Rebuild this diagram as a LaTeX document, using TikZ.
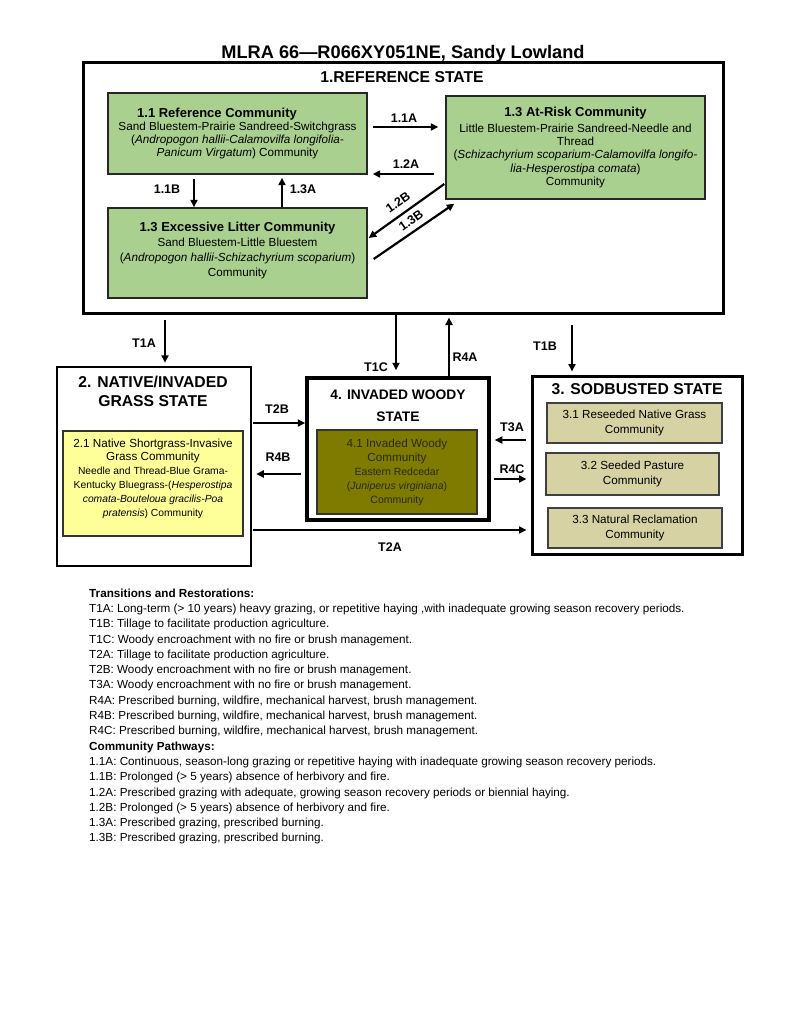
\documentclass[tikz,border=0pt]{standalone}
\usepackage{fontspec}
\setmainfont{Liberation Sans}
\usetikzlibrary{arrows.meta}
\definecolor{grn}{HTML}{A9D08E}
\definecolor{ylw}{HTML}{FFFF99}
\definecolor{olv}{HTML}{7F7A00}
\definecolor{tanbox}{HTML}{D6D2A3}
\definecolor{olvtext}{HTML}{2A2A10}
\newcommand\myfs[2]{\fontsize{#1}{#2}\selectfont}
\begin{document}
\begin{tikzpicture}[x=1pt,y=-1pt,
  statebox/.style={draw=black,line width=3pt,inner sep=0pt},
  commbox/.style={draw=black!85,line width=1.4pt,inner sep=0pt,align=center},
  txt/.style={inner sep=0pt,align=center},
  arr/.style={-{Triangle[length=7.5pt,width=7pt]},line width=2.2pt},
  lbl/.style={font=\bfseries\myfs{12.5}{14},inner sep=0pt},
  sttitle/.style={font=\bfseries\myfs{15.7}{19},inner sep=0pt,align=center}]
\useasboundingbox (0,0) rectangle (800,1035);
\fill[white] (0,0) rectangle (800,1035);

% title
\node[font=\bfseries\myfs{18.2}{22},inner sep=0pt,anchor=base] (title) at (403,58.5) {MLRA 66—R066XY051NE, Sandy Lowland};

% state 1
\node[statebox,minimum width=640pt,minimum height=250pt] (s1) at (403,188) {};
\node[sttitle] (s1t) at (402,77) {1.REFERENCE STATE};

\node[commbox,fill=grn,minimum width=259pt,minimum height=81pt,font=\myfs{11.7}{13.2}] (b11) at (237.5,133.5)
 {{\bfseries\myfs{13}{15}1.1 Reference Community}\kern41pt\\
  Sand Bluestem-Prairie Sandreed-Switchgrass\\
  (\textit{Andropogon hallii-Calamovilfa longifolia-}\\
  \textit{Panicum Virgatum}) Community};

\node[commbox,fill=grn,minimum width=259pt,minimum height=103pt,font=\myfs{11.7}{13.2}] (b13r) at (575.5,147.5)
 {{\bfseries\myfs{13}{15}1.3 At-Risk Community}\\[2.5pt]
  Little Bluestem-Prairie Sandreed-Needle and\\
  Thread\\
  (\textit{Schizachyrium scoparium-Calamovilfa longifo-}\\
  \textit{lia-Hesperostipa comata})\\
  Community};

\node[commbox,fill=grn,minimum width=259pt,minimum height=90pt] (bex) at (237.5,253) {};
\node[txt,font=\myfs{11.7}{15}] (bext) at (237.5,250.5)
 {{\bfseries\myfs{13}{15}1.3 Excessive Litter Community}\\
  Sand Bluestem-Little Bluestem\\
  (\textit{Andropogon hallii-Schizachyrium scoparium})\\
  Community};

% community pathways
\draw[arr] ([xshift=5pt,yshift=6.5pt]b11.east) -- ([xshift=-7pt,yshift=20.5pt]b13r.west);
\node[lbl] (l11a) at (404,118) {1.1A};
\draw[arr] ([xshift=-11pt,yshift=-26.5pt]b13r.west) -- ([xshift=5pt,yshift=-40.5pt]b11.east);
\node[lbl] (l12a) at (406,164) {1.2A};
\draw[arr,line width=1.7pt] ([xshift=-43.5pt,yshift=-4pt]b11.south) -- ([xshift=-43.5pt]bex.north);
\node[lbl] (l11b) at (167,189) {1.1B};
\draw[arr,line width=1.7pt] ([xshift=44.5pt]bex.north) -- ([xshift=44.5pt,yshift=-3pt]b11.south);
\node[lbl] (l13a) at (303,189) {1.3A};
\draw[arr] ([xshift=-1pt,yshift=-36.5pt]b13r.west) -- ([xshift=1pt,yshift=15pt]bex.east);
\node[lbl,rotate=35] (l12b) at (398,202) {1.2B};
\draw[arr] ([xshift=6pt,yshift=-6pt]bex.east) -- ([xshift=9pt,yshift=-4pt]b13r.south west);
\node[lbl,rotate=35] (l13b) at (411,220) {1.3B};

% state 2
\node[statebox,line width=2.5pt,minimum width=194pt,minimum height=199pt] (b2) at (154,466.5) {};
\node[sttitle] (b2t) at (153,391.5) {2. NATIVE/INVADED\\GRASS STATE};
\node[commbox,draw=black!80,line width=1.2pt,fill=ylw,minimum width=180pt,minimum height=105pt] (b21) at (153,483.5) {};
\node[txt,font=\myfs{10.3}{13.8}] (b21t) at (153,478.5)
 {{\myfs{11.7}{14}2.1 Native Shortgrass-Invasive}\\
  {\myfs{11.7}{14}Grass Community}\\
  Needle and Thread-Blue Grama-\\
  Kentucky Bluegrass-(\textit{Hesperostipa}\\
  \textit{comata-Bouteloua gracilis-Poa}\\
  \textit{pratensis}) Community};

% state 4
\node[statebox,line width=3.5pt,minimum width=182pt,minimum height=142pt] (b4) at (398,449) {};
\node[txt,font=\bfseries\myfs{13.8}{22}] (b4t) at (398,406) {4. INVADED WOODY\\STATE};
\node[commbox,draw=black!80,line width=1.2pt,fill=olv,minimum width=160pt,minimum height=84pt,font=\myfs{10.5}{14},text=olvtext] (b41) at (397,472)
 {{\myfs{11.7}{14}4.1 Invaded Woody}\\
  {\myfs{11.7}{14}Community}\\
  Eastern Redcedar\\
  (\textit{Juniperus virginiana})\\
  Community};

% state 3
\node[statebox,minimum width=210pt,minimum height=178pt] (b3) at (637,465) {};
\node[sttitle] (b3t) at (637,389) {3. SODBUSTED STATE};
\node[commbox,draw=black!75,line width=1.2pt,fill=tanbox,minimum width=175pt,minimum height=40pt,font=\myfs{11.7}{15}] (b31) at (634.5,423)
 {3.1 Reseeded Native Grass\\Community};
\node[commbox,draw=black!75,line width=1.2pt,fill=tanbox,minimum width=173pt,minimum height=42pt,font=\myfs{11.7}{15}] (b32) at (632.5,474)
 {3.2 Seeded Pasture\\Community};
\node[commbox,draw=black!75,line width=1.2pt,fill=tanbox,minimum width=174pt,minimum height=40pt,font=\myfs{11.7}{15}] (b33) at (635,528)
 {3.3 Natural Reclamation\\Community};

% transitions
\draw[arr] ([xshift=-238pt,yshift=-5pt]s1.south) -- ([xshift=11pt,yshift=3pt]b2.north);
\node[lbl] (lt1a) at (144,343) {T1A};
\draw[arr] ([xshift=-7pt]s1.south) -- ([xshift=-2pt,yshift=6pt]b4.north);
\node[lbl] (lt1c) at (376,367) {T1C};
\draw[arr] ([xshift=51pt]b4.north) -- ([xshift=46pt,yshift=-3pt]s1.south);
\node[lbl] (lr4a) at (465,357) {R4A};
\draw[arr] ([xshift=169pt,yshift=-10pt]s1.south) -- ([xshift=-65pt,yshift=3pt]b3.north);
\node[lbl] (lt1b) at (545,346) {T1B};
\draw[arr] ([xshift=1pt,yshift=43.5pt]b2.east) -- ([yshift=26pt]b4.west);
\node[lbl] (lt2b) at (277,409) {T2B};
\draw[arr] ([xshift=-4pt,yshift=-25pt]b4.west) -- ([xshift=4pt,yshift=-7.5pt]b2.east);
\node[lbl] (lr4b) at (278,457) {R4B};
\draw[arr] ([xshift=-5pt,yshift=25pt]b3.west) -- ([xshift=4pt,yshift=9pt]b4.east);
\node[lbl] (lt3a) at (512,427) {T3A};
\draw[arr] ([xshift=3pt,yshift=-30pt]b4.east) -- ([xshift=-4pt,yshift=-14pt]b3.west);
\node[lbl] (lr4c) at (512,469) {R4C};
\draw[arr] ([xshift=1pt,yshift=-63.5pt]b2.east) -- ([xshift=-4pt,yshift=-65pt]b3.west);
\node[lbl] (lt2a) at (390,547) {T2A};

% legend
\node[inner sep=0pt,anchor=north west,align=left,font=\myfs{11.7}{15.3}] (legend) at (89,588.5)
 {\textbf{Transitions and Restorations:}\\
  T1A: Long-term (> 10 years) heavy grazing, or repetitive haying ,with inadequate growing season recovery periods.\\
  T1B: Tillage to facilitate production agriculture.\\
  T1C: Woody encroachment with no fire or brush management.\\
  T2A: Tillage to facilitate production agriculture.\\
  T2B: Woody encroachment with no fire or brush management.\\
  T3A: Woody encroachment with no fire or brush management.\\
  R4A: Prescribed burning, wildfire, mechanical harvest, brush management.\\
  R4B: Prescribed burning, wildfire, mechanical harvest, brush management.\\
  R4C: Prescribed burning, wildfire, mechanical harvest, brush management.\\
  \textbf{Community Pathways:}\\
  1.1A: Continuous, season-long grazing or repetitive haying with inadequate growing season recovery periods.\\
  1.1B: Prolonged (> 5 years) absence of herbivory and fire.\\
  1.2A: Prescribed grazing with adequate, growing season recovery periods or biennial haying.\\
  1.2B: Prolonged (> 5 years) absence of herbivory and fire.\\
  1.3A: Prescribed grazing, prescribed burning.\\
  1.3B: Prescribed grazing, prescribed burning.};
\end{tikzpicture}
\end{document}
